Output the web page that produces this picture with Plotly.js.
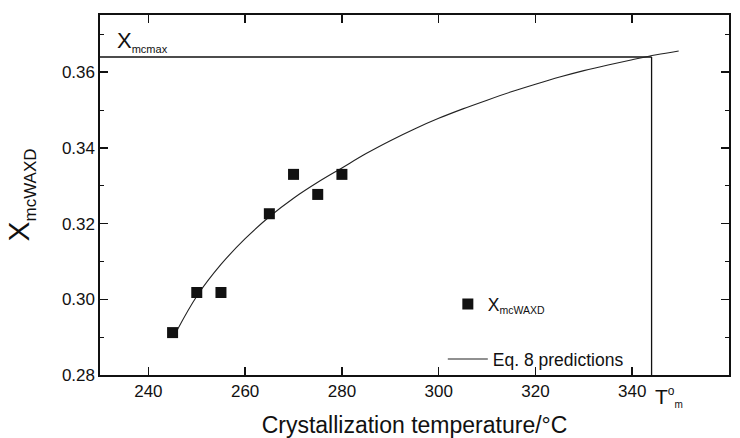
<!DOCTYPE html>
<html>
<head>
<meta charset="utf-8">
<script src="https://cdn.plot.ly/plotly-3.0.1.min.js"></script>
<style>html,body{margin:0;padding:0;background:#fff;}#chart{width:740px;height:438px;}</style>
</head>
<body>
<div id="chart"></div>
<script>
// Measured points (crystallization temperature, X_mcWAXD)
const tempMeasured = [245, 250, 255, 265, 270, 275, 280];
const xMeasured = [0.2912, 0.3018, 0.3018, 0.3226, 0.3330, 0.3277, 0.3330];

// Eq. 8 prediction curve
const tempPred = [245.8, 250, 255, 260, 265, 270, 275, 280, 285, 290, 295, 300, 305, 310, 315, 320, 325, 330, 335, 340, 345, 349.6];
const xPred = [0.2915, 0.3008, 0.3092, 0.3160, 0.3218, 0.3267, 0.3309, 0.3347, 0.3385, 0.3419, 0.3450, 0.3478, 0.3503, 0.3526, 0.3548, 0.3568, 0.3587, 0.3604, 0.3619, 0.3633, 0.3646, 0.3656];

// Reference levels
const xmcmax = 0.364;
const tmZero = 344;
const xStart = 230;
const yStart = 0.28;

const xTicks = [240, 260, 280, 300, 320, 340, 360];
const yTicks = [0.28, 0.30, 0.32, 0.34, 0.36];
const yTickText = ['0.28', '0.30', '0.32', '0.34', '0.36'];

const FONT = 'Liberation Sans, Arial, Helvetica, sans-serif';

const traces = [
  {
    x: [xStart, tmZero], y: [xmcmax, xmcmax],
    mode: 'lines', line: {color: '#111', width: 1.3},
    showlegend: false, hoverinfo: 'skip'
  },
  {
    x: [tmZero, tmZero], y: [yStart, xmcmax],
    mode: 'lines', line: {color: '#111', width: 1.3},
    showlegend: false, hoverinfo: 'skip'
  },
  {
    x: tempPred, y: xPred,
    mode: 'lines', line: {color: '#222', width: 1.1, shape: 'spline', smoothing: 1},
    name: 'Eq. 8 predictions', legend: 'legend2'
  },
  {
    x: tempMeasured, y: xMeasured,
    mode: 'markers', marker: {symbol: 'square', size: 11, color: '#111'},
    name: 'X<sub><span style="font-size:10.5px">mcWAXD</span></sub>', legend: 'legend'
  }
];

const layout = {
  width: 740, height: 438,
  margin: {l: 100, r: 11, t: 15, b: 63},
  paper_bgcolor: '#fff', plot_bgcolor: '#fff',
  font: {family: FONT, color: '#111', size: 17},
  xaxis: {
    range: [230, 360],
    tickvals: xTicks,
    ticks: 'inside', ticklen: 8, tickwidth: 1.5, tickcolor: '#111',
    showline: true, linecolor: '#111', linewidth: 1.6, mirror: 'ticks',
    showgrid: false, zeroline: false,
    tickfont: {size: 17, family: FONT},
    title: {text: 'Crystallization temperature/°C', font: {size: 23, family: FONT}, standoff: 19}
  },
  yaxis: {
    range: [0.28, 0.3751],
    tickvals: yTicks, ticktext: yTickText,
    ticks: 'inside', ticklen: 8, tickwidth: 1.5, tickcolor: '#111',
    minor: {dtick: 0.01, ticks: 'inside', ticklen: 4, tickwidth: 1, tickcolor: '#111'},
    showline: true, linecolor: '#111', linewidth: 1.6, mirror: 'ticks',
    showgrid: false, zeroline: false,
    tickfont: {size: 17, family: FONT},
    title: {text: 'X<sub><span style="font-size:17px">mcWAXD</span></sub>', font: {size: 30, family: FONT}, standoff: 23}
  },
  legend: {
    x: 0.553, y: 0.197, xanchor: 'left', yanchor: 'middle',
    bgcolor: 'rgba(0,0,0,0)', borderwidth: 0,
    font: {size: 17.5, family: FONT}
  },
  legend2: {
    x: 0.545, y: 0.044, xanchor: 'left', yanchor: 'middle',
    bgcolor: 'rgba(0,0,0,0)', borderwidth: 0, itemwidth: 40,
    font: {size: 17.5, family: FONT}
  },
  annotations: [
    {
      xref: 'x', yref: 'y', x: 233.2, y: xmcmax, xanchor: 'left', yanchor: 'bottom',
      text: 'X<sub><span style="font-size:11px">mcmax</span></sub>',
      showarrow: false, font: {size: 22, family: FONT, color: '#111'}
    },
    {
      xref: 'x', yref: 'paper', x: tmZero, y: -0.06, xanchor: 'left', yanchor: 'middle', xshift: 1,
      text: 'T<sup><span style="font-size:12px">o</span></sup><sub><span style="font-size:10px">m</span></sub>',
      showarrow: false, font: {size: 21, family: FONT, color: '#111'}
    }
  ],
  showlegend: true
};

Plotly.newPlot('chart', traces, layout, {displayModeBar: false, staticPlot: true});
</script>
</body>
</html>
